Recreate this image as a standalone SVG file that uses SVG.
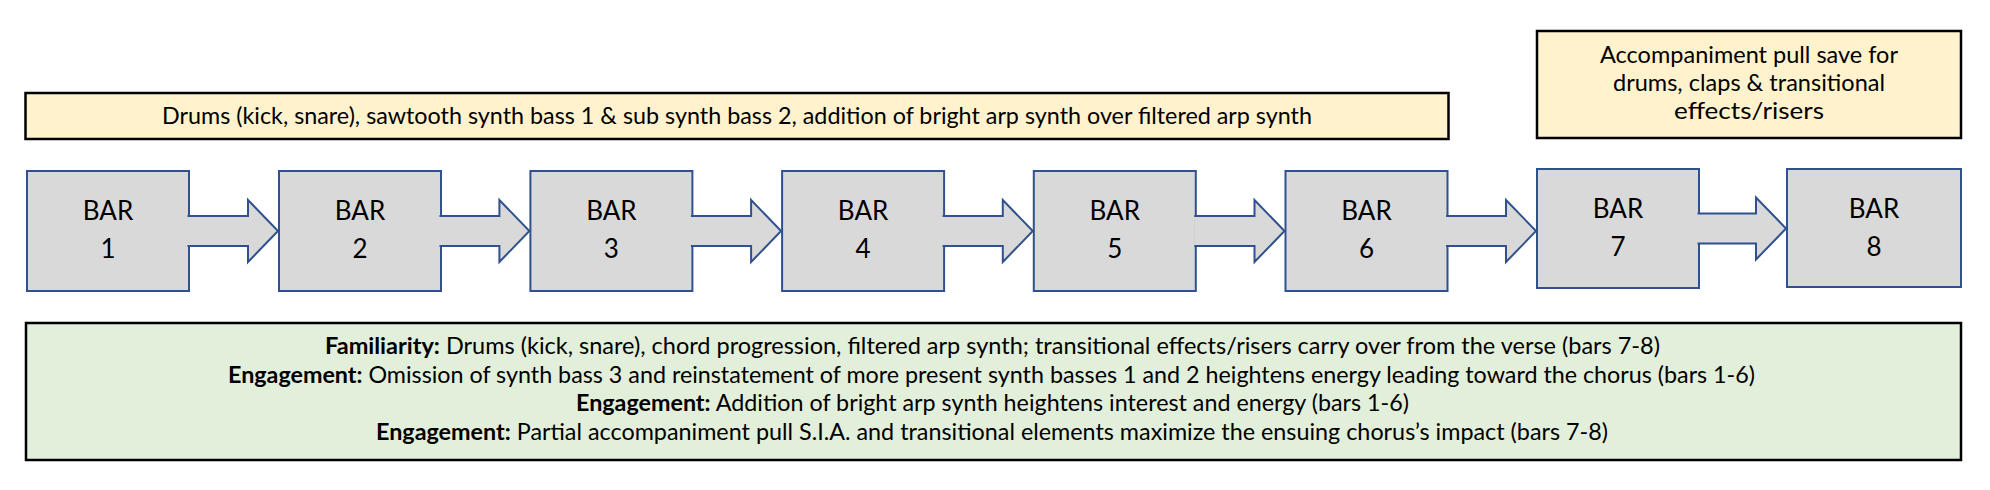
<svg xmlns="http://www.w3.org/2000/svg" width="1990" height="490" viewBox="0 0 1990 490">
<defs>
<style>
.bar{fill:#D9D9D9;stroke:#2F528F;stroke-width:2}
.arr{fill:#D9D9D9;stroke:#2F528F;stroke-width:2;stroke-linejoin:miter}
.note{fill:#FFF2CC;stroke:#000;stroke-width:2.5}
.green{fill:#E2EFDA;stroke:#000;stroke-width:2.5}
.t{font-family:Lato,"Liberation Sans",sans-serif;font-size:23px;fill:#000;text-anchor:middle}
.bt{font-family:Lato,"Liberation Sans",sans-serif;font-size:26px;fill:#000;text-anchor:middle}
.b{font-weight:bold}
</style>
</defs>
<rect width="1990" height="490" fill="#fff"/>

<g id="note-bars-1-6">
<rect class="note" x="25.5" y="93" width="1423" height="46"/>
<text class="t" x="737" y="124" textLength="1150" lengthAdjust="spacingAndGlyphs">Drums (kick, snare), sawtooth synth bass 1 &amp; sub synth bass 2, addition of bright arp synth over filtered arp synth</text>
</g>

<g id="note-bars-7-8">
<rect class="note" x="1537" y="31" width="424" height="107"/>
<text class="t" x="1749" y="63" textLength="298" lengthAdjust="spacingAndGlyphs">Accompaniment pull save for</text>
<text class="t" x="1749" y="91" textLength="272" lengthAdjust="spacingAndGlyphs">drums, claps &amp; transitional</text>
<text class="t" x="1749" y="119" textLength="150" lengthAdjust="spacingAndGlyphs">effects/risers</text>
</g>

<g id="bar1">
<rect class="bar" x="27" y="171" width="162" height="120"/>
<text class="bt" x="108" y="220">BAR</text>
<text class="bt" x="108" y="258">1</text>
</g>
<g id="bar2">
<rect class="bar" x="279" y="171" width="162" height="120"/>
<text class="bt" x="360" y="220">BAR</text>
<text class="bt" x="360" y="258">2</text>
</g>
<g id="bar3">
<rect class="bar" x="530.4" y="171" width="162" height="120"/>
<text class="bt" x="611.4" y="220">BAR</text>
<text class="bt" x="611.4" y="258">3</text>
</g>
<g id="bar4">
<rect class="bar" x="782.1" y="171" width="162" height="120"/>
<text class="bt" x="863.1" y="220">BAR</text>
<text class="bt" x="863.1" y="258">4</text>
</g>
<g id="bar5">
<rect class="bar" x="1033.8" y="171" width="162" height="120"/>
<text class="bt" x="1114.8" y="220">BAR</text>
<text class="bt" x="1114.8" y="258">5</text>
</g>
<g id="bar6">
<rect class="bar" x="1285.5" y="171" width="162" height="120"/>
<text class="bt" x="1366.5" y="220">BAR</text>
<text class="bt" x="1366.5" y="258">6</text>
</g>
<g id="bar7">
<rect class="bar" x="1537" y="169" width="162" height="119"/>
<text class="bt" x="1618" y="218">BAR</text>
<text class="bt" x="1618" y="256">7</text>
</g>
<g id="bar8">
<rect class="bar" x="1787" y="169" width="174" height="118"/>
<text class="bt" x="1874" y="218">BAR</text>
<text class="bt" x="1874" y="256">8</text>
</g>

<g id="connectors">
<path class="arr" d="M187.5,216 H248 V200 L278,231 L248,262 V246 H187.5"/>
<path class="arr" d="M439.5,216 H499.4 V200 L529.4,231 L499.4,262 V246 H439.5"/>
<path class="arr" d="M690.9,216 H751.1 V200 L781.1,231 L751.1,262 V246 H690.9"/>
<path class="arr" d="M942.6,216 H1002.8 V200 L1032.8,231 L1002.8,262 V246 H942.6"/>
<path class="arr" d="M1194.3,216 H1254.5 V200 L1284.5,231 L1254.5,262 V246 H1194.3"/>
<path class="arr" d="M1446,216 H1506 V200 L1536,231 L1506,262 V246 H1446"/>
<path class="arr" d="M1697.5,213.5 H1756 V197.5 L1786,228.5 L1756,259.5 V243.5 H1697.5"/>
</g>

<g id="summary">
<rect class="green" x="26" y="323" width="1935" height="137"/>
<text class="t" x="992.5" y="354" textLength="1335" lengthAdjust="spacingAndGlyphs"><tspan class="b">Familiarity:</tspan> Drums (kick, snare), chord progression, filtered arp synth; transitional effects/risers carry over from the verse (bars 7-8)</text>
<text class="t" x="991.5" y="383" textLength="1527" lengthAdjust="spacingAndGlyphs"><tspan class="b">Engagement:</tspan> Omission of synth bass 3 and reinstatement of more present synth basses 1 and 2 heightens energy leading toward the chorus (bars 1-6)</text>
<text class="t" x="992.5" y="411" textLength="833" lengthAdjust="spacingAndGlyphs"><tspan class="b">Engagement:</tspan> Addition of bright arp synth heightens interest and energy (bars 1-6)</text>
<text class="t" x="992" y="440" textLength="1232" lengthAdjust="spacingAndGlyphs"><tspan class="b">Engagement:</tspan> Partial accompaniment pull S.I.A. and transitional elements maximize the ensuing chorus’s impact (bars 7-8)</text>
</g>
</svg>
